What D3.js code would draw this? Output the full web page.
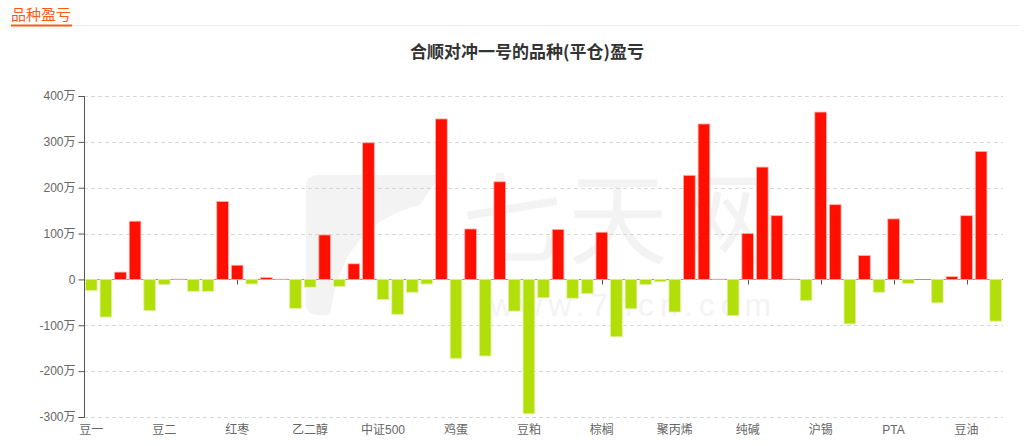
<!DOCTYPE html>
<html>
<head>
<meta charset="utf-8">
<script src="https://cdn.jsdelivr.net/npm/d3@7/dist/d3.min.js"></script>
<style>
  html, body { margin: 0; padding: 0; background: #fff; }
  svg { display: block; font-family: "Liberation Sans", "Noto Sans CJK SC", sans-serif; }
</style>
</head>
<body>
<svg id="chart" width="1028" height="446"></svg>
<script>
// ---- data ----
const headerText = "品种盈亏";
const titleText = "合顺对冲一号的品种(平仓)盈亏";
// visible category labels (every 5th category is labelled)
const categoryLabels = ["豆一", "豆二", "红枣", "乙二醇", "中证500", "鸡蛋", "豆粕", "棕榈", "聚丙烯", "纯碱", "沪锡", "PTA", "豆油"];
const labelStep = 5;
// profit / loss per category, unit: 万
const values = [
  -24, -82, 16, 127, -68, -11, 0.6, -26, -26, 170,
  31, -10, 4, 0.5, -63, -17, 97, -15, 34, 298,
  -44, -76, -28, -10, 350, -172, 110, -167, 213, -69,
  -293, -40, 109, -41, -31, 103, -125, -64, -11, -5,
  -71, 227, 339, 0.5, -79, 100, 245, 139, 0.5, -46,
  365, 163, -97, 52, -28, 132, -9, 0, -51, 6,
  139, 279, -91
];
const yTicks = [-300, -200, -100, 0, 100, 200, 300, 400];

// ---- layout ----
const svg = d3.select("#chart");
const plotL = 84, plotR = 1003, plotT = 96, plotB = 417;

const x = d3.scaleBand().domain(d3.range(values.length)).range([plotL, plotR]).paddingInner(0.2).paddingOuter(0.1);
const y = d3.scaleLinear().domain([-300, 400]).range([plotB, plotT]);

// header
svg.append("text").attr("x", 11).attr("y", 20).attr("font-size", 15)
  .attr("fill", "#ff5a14").attr("font-family", "Noto Sans CJK SC").text(headerText);
svg.append("line").attr("x1", 72).attr("x2", 1020).attr("y1", 25.5).attr("y2", 25.5)
  .attr("stroke", "#ececec").attr("stroke-width", 1);
svg.append("line").attr("x1", 11).attr("x2", 72).attr("y1", 25.5).attr("y2", 25.5)
  .attr("stroke", "#ff5a14").attr("stroke-width", 2);

// watermark
const wm = svg.append("g").attr("fill", "#f3f3f3");
wm.append("text").attr("x", 462).attr("y", 256).attr("font-size", 100)
  .attr("font-family", "Noto Sans CJK SC").attr("letter-spacing", 6).text("七天网");
wm.append("text").attr("x", 490).attr("y", 316).attr("font-size", 32)
  .attr("font-family", "Liberation Sans").attr("letter-spacing", 6).text("www.7hcn.com");
wm.append("path")
  .attr("d", "M318,175 H440 L420,205 C380,215 340,240 330,315 H318 Q306,315 306,303 V187 Q306,175 318,175 Z")
  .attr("fill", "#f3f3f3");

// title
svg.append("text").attr("x", 527).attr("y", 58).attr("text-anchor", "middle")
  .attr("font-size", 17).attr("font-weight", "bold").attr("fill", "#333")
  .attr("font-family", "Noto Sans CJK SC").text(titleText);

// gridlines
svg.append("g").selectAll("line").data(yTicks.filter(d => d !== 0)).join("line")
  .attr("x1", plotL).attr("x2", plotR)
  .attr("y1", d => Math.round(y(d)) + 0.5).attr("y2", d => Math.round(y(d)) + 0.5)
  .attr("stroke", "#d8d8d8").attr("stroke-dasharray", "4,3");

// x axis line at zero with ticks
const y0 = Math.round(y(0)) + 0.5;
const xTickIdx = d3.range(0, values.length, labelStep);
svg.append("g").selectAll("line").data(xTickIdx).join("line")
  .attr("x1", i => Math.round(x(i) + x.bandwidth() / 2) + 0.5)
  .attr("x2", i => Math.round(x(i) + x.bandwidth() / 2) + 0.5)
  .attr("y1", y0).attr("y2", y0 + 5).attr("stroke", "#555");
svg.append("line").attr("x1", plotL).attr("x2", plotR).attr("y1", y0).attr("y2", y0)
  .attr("stroke", "#999");

// bars
svg.append("g").selectAll("rect").data(values).join("rect")
  .attr("x", (d, i) => x(i))
  .attr("width", x.bandwidth())
  .attr("y", d => y(Math.max(0, d)))
  .attr("height", d => Math.abs(y(d) - y(0)))
  .attr("fill", d => d >= 0 ? "#ff0f00" : "#b2df0a")
  .attr("stroke", d => d >= 0 ? "#ffb0a8" : "#e0f3a0")
  .attr("stroke-width", 0.8);

// y axis
const yAxis = d3.axisLeft(y).tickValues(yTicks).tickSize(6).tickPadding(3)
  .tickFormat(d => d === 0 ? "0" : d + "万");
const ya = svg.append("g").attr("transform", `translate(${plotL + 0.5},0)`).call(yAxis);
ya.select(".domain").attr("stroke", "#555").attr("d", `M-6,${Math.round(plotT)+0.5}H0V${Math.round(plotB)+0.5}H-6`);
ya.selectAll(".tick line").attr("stroke", "#555");
ya.selectAll(".tick text").attr("fill", "#666").attr("font-size", 12)
  .attr("font-family", "Liberation Sans, Noto Sans CJK SC");

// x labels
svg.append("g").selectAll("text").data(xTickIdx).join("text")
  .attr("x", i => x(i) + x.bandwidth() / 2)
  .attr("y", 434).attr("text-anchor", "middle")
  .attr("font-size", 12).attr("fill", "#666")
  .attr("font-family", "Liberation Sans, Noto Sans CJK SC")
  .text((i, k) => categoryLabels[k]);
</script>
</body>
</html>
